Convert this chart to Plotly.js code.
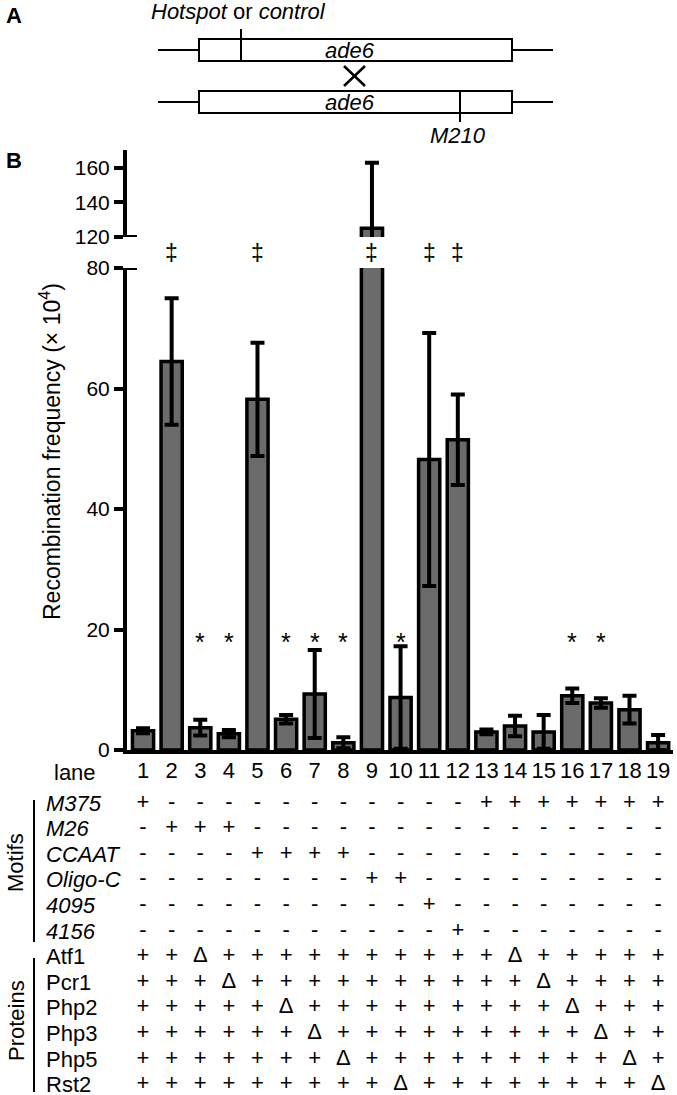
<!DOCTYPE html>
<html><head><meta charset="utf-8">
<script src="https://cdn.plot.ly/plotly-3.0.1.min.js"></script>
<style>html,body{margin:0;padding:0;background:#fff}</style>
</head><body><div id="chart" style="width:677px;height:1095px"></div>
<script>
// ---- data ----
const lanes = [1,2,3,4,5,6,7,8,9,10,11,12,13,14,15,16,17,18,19];
const frequency = [3.2, 64.5, 3.7, 2.7, 58.2, 5.1, 9.3, 1.2, 125, 8.7, 48.2, 51.5, 3.0, 4.0, 3.0, 9.0, 7.8, 6.7, 1.2];
const errorSD  = [0.4, 10.5, 1.3, 0.6, 9.4, 0.7, 7.3, 0.9, 38, 8.5, 21, 7.5, 0.4, 1.7, 2.8, 1.2, 0.8, 2.3, 1.3];
const daggerLanes = [2,5,9,11,12];
const starLanes = [3,4,6,7,8,10,16,17];
const lowerTicks = [0,20,40,60,80];
const upperTicks = [120,140,160];
const motifNames = ['M375','M26','CCAAT','Oligo-C','4095','4156'];
const motifCalls = [
  '+-----------+++++++',
  '-+++---------------',
  '----++++-----------',
  '--------++---------',
  '----------+--------',
  '-----------+-------'
];
const proteinNames = ['Atf1','Pcr1','Php2','Php3','Php5','Rst2'];
const proteinCalls = [
  '++Δ++++++++++Δ+++++',
  '+++Δ++++++++++Δ++++',
  '+++++Δ+++++++++Δ+++',
  '++++++Δ+++++++++Δ++',
  '+++++++Δ+++++++++Δ+',
  '+++++++++Δ++++++++Δ'
];

// ---- helpers (pixel -> paper) ----
const W = 677, H = 1095;
const PX = v => v / W;
const PY = v => 1 - v / H;
const FONT = 'Arial, "Liberation Sans", Helvetica, sans-serif';
const BLACK = '#000';
const TFS = 22;

const barStyle = {
  type: 'bar', x: lanes, y: frequency, width: 0.74,
  marker: {color: '#6b6b6b', line: {color: BLACK, width: 3.5}},
  error_y: {type: 'data', array: errorSD, visible: true, color: BLACK, thickness: 4, width: 7},
  hoverinfo: 'skip', showlegend: false
};
const traces = [
  Object.assign({}, barStyle, {xaxis: 'x', yaxis: 'y'}),
  Object.assign({}, barStyle, {xaxis: 'x', yaxis: 'y2'})
];

// table text traces (rows on a hidden axis)
const laneRowPos = -1.2;
traces.push({
  type: 'scatter', mode: 'text', x: lanes, y: lanes.map(() => laneRowPos),
  text: lanes.map(String), textfont: {family: FONT, size: TFS, color: BLACK},
  xaxis: 'x', yaxis: 'y3', cliponaxis: false, hoverinfo: 'skip', showlegend: false
});
const allCalls = motifCalls.concat(proteinCalls);
allCalls.forEach((row, i) => {
  traces.push({
    type: 'scatter', mode: 'text', x: lanes, y: lanes.map(() => i),
    text: Array.from(row), textfont: {family: FONT, size: TFS, color: BLACK},
    xaxis: 'x', yaxis: 'y3', cliponaxis: false, hoverinfo: 'skip', showlegend: false
  });
});

// ---- annotations ----
const A = (o) => Object.assign({showarrow: false, xanchor: 'center', yanchor: 'middle',
  xref: 'paper', yref: 'paper', font: {family: FONT, size: TFS, color: BLACK}}, o);
const ann = [];
daggerLanes.forEach(l => ann.push(A({x: l, xref: 'x', y: PY(253), text: '‡',
  font: {family: FONT, size: 23, color: BLACK}})));
starLanes.forEach(l => ann.push(A({x: l, xref: 'x', y: 18.0, yref: 'y', text: '*',
  font: {family: FONT, size: 25, color: BLACK}})));
// row labels
ann.push(A({x: PX(52), xanchor: 'left', y: laneRowPos, yref: 'y3', text: 'lane'}));
motifNames.forEach((n, i) => ann.push(A({x: PX(44), xanchor: 'left', y: i, yref: 'y3',
  text: '<i>' + n + '</i>'})));
proteinNames.forEach((n, i) => ann.push(A({x: PX(44), xanchor: 'left', y: i + motifNames.length, yref: 'y3',
  text: n})));
ann.push(A({x: PX(16), y: PY(863), text: 'Motifs', textangle: -90}));
ann.push(A({x: PX(16), y: PY(1021), text: 'Proteins', textangle: -90}));
// y-axis title
ann.push(A({x: PX(50), y: PY(452), text: 'Recombination frequency (× 10<sup>4</sup>)', textangle: -90,
  font: {family: FONT, size: 23, color: BLACK}}));
// panel letters
ann.push(A({x: PX(14), y: PY(15), text: '<b>A</b>', font: {family: FONT, size: 22, color: BLACK}}));
ann.push(A({x: PX(14), y: PY(160), text: '<b>B</b>', font: {family: FONT, size: 22, color: BLACK}}));
// panel A texts
ann.push(A({x: PX(238), y: PY(12), text: '<i>Hotspot</i> or <i>control</i>', font: {family: FONT, size: 22, color: BLACK}}));
ann.push(A({x: PX(350), y: PY(50), text: '<i>ade6</i>', font: {family: FONT, size: 22, color: BLACK}}));
ann.push(A({x: PX(350), y: PY(102), text: '<i>ade6</i>', font: {family: FONT, size: 22, color: BLACK}}));
ann.push(A({x: PX(458), y: PY(136), text: '<i>M210</i>', font: {family: FONT, size: 22, color: BLACK}}));

// ---- shapes ----
const L = (x0, y0, x1, y1, w) => ({type: 'line', xref: 'paper', yref: 'paper',
  x0: PX(x0), y0: PY(y0), x1: PX(x1), y1: PY(y1), line: {color: BLACK, width: w || 2}});
const R = (x0, y0, x1, y1) => ({type: 'rect', xref: 'paper', yref: 'paper',
  x0: PX(x0), y0: PY(y0), x1: PX(x1), y1: PY(y1), line: {color: BLACK, width: 2}, fillcolor: 'rgba(0,0,0,0)'});
const shapes = [
  L(158, 50, 199, 50), R(199, 39, 512, 61), L(512, 50, 553, 50), L(241, 29, 241, 61),
  L(158, 102, 199, 102), R(199, 91, 512, 113), L(512, 102, 553, 102), L(460, 91, 460, 122),
  L(344, 66, 365, 86, 2.5), L(344, 86, 365, 66, 2.5),
  L(34, 800, 34, 942, 2), L(34, 958, 34, 1092, 2),
  // axis-break marks
  {type: 'line', xref: 'paper', yref: 'y', x0: PX(125), x1: PX(137), y0: 80, y1: 80, line: {color: BLACK, width: 4}},
  {type: 'line', xref: 'paper', yref: 'y2', x0: PX(125), x1: PX(137), y0: 120, y1: 120, line: {color: BLACK, width: 4}}
];

const yStyle = {
  showline: true, linewidth: 4, linecolor: BLACK, ticks: 'outside', ticklen: 9, tickwidth: 4, tickcolor: BLACK,
  showgrid: false, zeroline: false, tickfont: {family: FONT, size: 21, color: BLACK}, anchor: 'x', fixedrange: true
};
const layout = {
  width: W, height: H, margin: {l: 0, r: 0, t: 0, b: 0},
  paper_bgcolor: '#fff', plot_bgcolor: 'rgba(0,0,0,0)', showlegend: false,
  font: {family: FONT, color: BLACK},
  xaxis: {domain: [PX(127), PX(673)], range: [0.44, 19.52], showline: true, linewidth: 4, linecolor: BLACK,
    showticklabels: false, ticks: '', showgrid: false, zeroline: false, anchor: 'y', fixedrange: true},
  yaxis: Object.assign({}, yStyle, {domain: [PY(750), PY(268)], range: [0, 80], tickvals: lowerTicks}),
  yaxis2: Object.assign({}, yStyle, {domain: [PY(237), PY(150)], range: [120, 170.4], tickvals: upperTicks}),
  yaxis3: {domain: [0, PY(760)], range: [11.406, -1.68], visible: false, anchor: 'x', fixedrange: true},
  annotations: ann, shapes: shapes, bargap: 0
};
Plotly.newPlot('chart', traces, layout, {staticPlot: true, displayModeBar: false});
</script></body></html>
